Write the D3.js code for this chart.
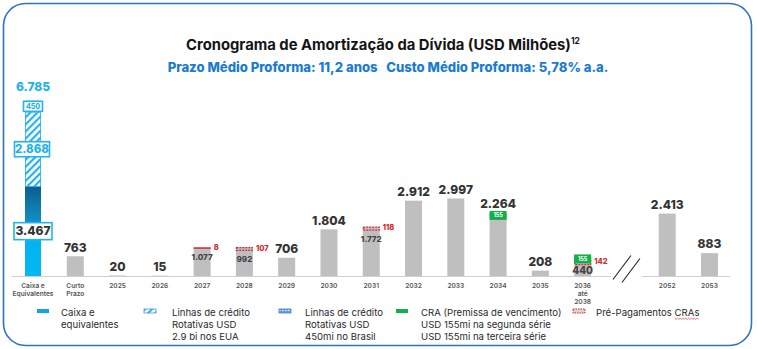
<!DOCTYPE html>
<html>
<head>
<meta charset="utf-8">
<script src="https://cdn.jsdelivr.net/npm/d3@7/dist/d3.min.js"></script>
<style>
  html, body { margin: 0; padding: 0; background: #fff; }
  svg { display: block; font-family: Inter, "Open Sans", sans-serif; }
</style>
</head>
<body>
<svg id="chart" width="757" height="349"></svg>
<script>
// Categories along the x axis ("|" marks a line break, "//" is the axis break slot)
const categories = ["Caixa e|Equivalentes", "Curto|Prazo", "2025", "2026", "2027", "2028", "2029",
  "2030", "2031", "2032", "2033", "2034", "2035", "2036|até|2038", "//", "2052", "2053"];

// Cash position (first column), USD millions
const cashValues = [3467];
const rcfUsaValues = [2868];
const rcfBrasilValues = [450];
const cashTotal = 6785;

// Debt amortization per period, USD millions
const debtCategories = ["Curto|Prazo", "2025", "2026", "2027", "2028", "2029", "2030", "2031",
  "2032", "2033", "2034", "2035", "2036|até|2038", "2052", "2053"];
const debtValues    = [763, 20, 15, 1077, 992, 706, 1804, 1772, 2912, 2997, 2264, 208, 440, 2413, 883];
const prepayValues  = [0, 0, 0, 8, 107, 0, 0, 118, 0, 0, 0, 0, 142, 0, 0];
const craValues     = [0, 0, 0, 0, 0, 0, 0, 0, 0, 0, 155, 0, 155, 0, 0];

const titleText = "Cronograma de Amortização da Dívida (USD Milhões)";
const subtitleText = "Prazo Médio Proforma: 11,2 anos   Custo Médio Proforma: 5,78% a.a.";

const legendItems = [
  { key: "cash",   lines: ["Caixa e", "equivalentes"] },
  { key: "rcfUsa", lines: ["Linhas de crédito", "Rotativas USD", "2.9 bi nos EUA"] },
  { key: "rcfBr",  lines: ["Linhas de crédito", "Rotativas USD", "450mi no Brasil"] },
  { key: "cra",    lines: ["CRA (Premissa de vencimento)", "USD 155mi na segunda série", "USD 155mi na terceira série"] },
  { key: "prepay", lines: ["Pré-Pagamentos CRAs"] }
];

const fmt = d3.formatLocale({ decimal: ",", thousands: ".", grouping: [3], currency: ["", ""] }).format(",d");

const svg = d3.select("#chart");

const C = {
  frame: "#2f73bf", gray: "#bfbfbf", dark: "#333333", axis: "#d0d0d0",
  cyanText: "#1db1ee", red: "#d7262c", green: "#12b04b", blue: "#1a7bd0"
};

// ---------- defs: gradient and patterns ----------
const defs = svg.append("defs");
const grad = defs.append("linearGradient").attr("id", "cashGrad")
  .attr("x1", 0).attr("y1", 0).attr("x2", 0).attr("y2", 1);
grad.append("stop").attr("offset", "0%").attr("stop-color", "#0b5d8c");
grad.append("stop").attr("offset", "40%").attr("stop-color", "#1290c9");
grad.append("stop").attr("offset", "52%").attr("stop-color", "#05b1ee");
grad.append("stop").attr("offset", "100%").attr("stop-color", "#00b9f3");

const hatch = defs.append("pattern").attr("id", "hatch").attr("patternUnits", "userSpaceOnUse")
  .attr("width", 5).attr("height", 5).attr("patternTransform", "rotate(45)");
hatch.append("rect").attr("width", 5).attr("height", 5).attr("fill", "#fff");
hatch.append("rect").attr("width", 2.2).attr("height", 5).attr("fill", "#22b2ef");

const dots = defs.append("pattern").attr("id", "dots").attr("patternUnits", "userSpaceOnUse")
  .attr("width", 3).attr("height", 3);
dots.append("rect").attr("width", 3).attr("height", 3).attr("fill", "#6d9de0");
dots.append("rect").attr("x", 0).attr("y", 1).attr("width", 1.6).attr("height", 1).attr("fill", "#e8f0ff");

// ---------- frame ----------
svg.append("rect").attr("x", 3.5).attr("y", 3.5).attr("width", 748).attr("height", 342)
  .attr("rx", 22).attr("fill", "none").attr("stroke", C.frame).attr("stroke-width", 1.6);

// ---------- titles ----------
const title = svg.append("text").attr("x", 383).attr("y", 50).attr("text-anchor", "middle")
  .attr("font-size", 14.8).attr("font-weight", 700).attr("fill", "#141414").text(titleText);
title.append("tspan").attr("font-size", 8.5).attr("dy", -6).text("12");

svg.append("text").attr("x", 388).attr("y", 72).attr("text-anchor", "middle")
  .attr("font-size", 13.1).attr("font-weight", 800).attr("fill", C.blue)
  .attr("xml:space", "preserve").text(subtitleText);

// ---------- scales ----------
const x = d3.scalePoint().domain(categories).range([33, 709.5]);
const y = d3.scaleLinear().domain([0, cashTotal]).range([276, 100.5]);
const bw = 17;

// ---------- axis baseline with break ----------
const axisY = y(0) + 0.5;
svg.append("line").attr("x1", 12).attr("x2", 611).attr("y1", axisY).attr("y2", axisY)
  .attr("stroke", C.axis).attr("stroke-width", 1.2);
svg.append("line").attr("x1", 642).attr("x2", 730).attr("y1", axisY).attr("y2", axisY)
  .attr("stroke", C.axis).attr("stroke-width", 1.2);
const bx = x("//");
[[-12, 3, 6, -18], [-3, 6, 15, -15]].forEach(([dx1, dy1, dx2, dy2]) => {
  svg.append("line").attr("x1", bx + dx1).attr("y1", axisY + dy1)
    .attr("x2", bx + dx2).attr("y2", axisY + dy2 - 3)
    .attr("stroke", "#222").attr("stroke-width", 1.1);
});

// ---------- category labels ----------
const catG = svg.append("g").attr("font-size", 6.6).attr("font-weight", 600).attr("fill", "#555")
  .attr("text-anchor", "middle");
categories.filter(c => c !== "//").forEach(c => {
  const t = catG.append("text").attr("x", x(c)).attr("y", 287.5);
  c.split("|").forEach((ln, i) => t.append("tspan").attr("x", x(c)).attr("dy", i === 0 ? 0 : 8.2).text(ln));
});

// ---------- cash column ----------
const cx = x(categories[0]);
const cashSegs = [
  { v0: 0, v1: cashValues[0], fill: "url(#cashGrad)" },
  { v0: cashValues[0], v1: cashValues[0] + rcfUsaValues[0], fill: "url(#hatch)" },
  { v0: cashValues[0] + rcfUsaValues[0], v1: cashValues[0] + rcfUsaValues[0] + rcfBrasilValues[0], fill: "url(#dots)" }
];
svg.append("g").selectAll("rect").data(cashSegs).join("rect")
  .attr("x", cx - 8).attr("width", 16)
  .attr("y", d => y(d.v1)).attr("height", d => y(d.v0) - y(d.v1))
  .attr("fill", d => d.fill);
svg.append("rect").attr("x", cx - 8 + 0.4).attr("width", 15.2)
  .attr("y", y(cashSegs[1].v1)).attr("height", y(cashSegs[1].v0) - y(cashSegs[1].v1))
  .attr("fill", "none").attr("stroke", "#22b2ef").attr("stroke-width", 0.8);

function boxLabel(cxp, cyp, w, h, text, color, fs) {
  svg.append("rect").attr("x", cxp - w / 2).attr("y", cyp - h / 2).attr("width", w).attr("height", h)
    .attr("fill", "#fff").attr("stroke", "#25b3ef").attr("stroke-width", 1.6);
  svg.append("text").attr("x", cxp).attr("y", cyp).attr("dy", "0.36em").attr("text-anchor", "middle")
    .attr("font-size", fs).attr("font-weight", 800).attr("fill", color).text(text);
}
boxLabel(cx, (y(cashSegs[0].v0) + y(cashSegs[0].v1)) / 2, 38, 17, fmt(cashValues[0]), C.dark, 12);
boxLabel(cx - 1, (y(cashSegs[1].v0) + y(cashSegs[1].v1)) / 2, 35, 15, fmt(rcfUsaValues[0]), C.cyanText, 11.5);
boxLabel(cx, (y(cashSegs[2].v0) + y(cashSegs[2].v1)) / 2, 19, 10, fmt(rcfBrasilValues[0]), C.cyanText, 7);
svg.append("text").attr("x", cx).attr("y", y(cashTotal) - 14).attr("dy", "0.36em")
  .attr("text-anchor", "middle").attr("font-size", 12).attr("font-weight", 800)
  .attr("fill", C.cyanText).text(fmt(cashTotal));

// ---------- debt bars ----------
const rows = debtCategories.map((c, i) => ({
  c, debt: debtValues[i], prepay: prepayValues[i], cra: craValues[i]
}));
const gBars = svg.append("g");
gBars.selectAll("rect.debt").data(rows).join("rect").attr("class", "debt")
  .attr("x", d => x(d.c) - bw / 2).attr("width", bw)
  .attr("y", d => y(d.debt)).attr("height", d => y(0) - y(d.debt))
  .attr("fill", C.gray);

// pre-payments: dashed red outline
gBars.selectAll("rect.prepay").data(rows.filter(d => d.prepay > 0)).join("rect").attr("class", "prepay")
  .attr("x", d => x(d.c) - bw / 2 + 0.5).attr("width", bw - 1)
  .attr("y", d => y(d.debt + d.prepay)).attr("height", d => y(d.debt) - y(d.debt + d.prepay))
  .attr("fill", C.gray).attr("stroke", C.red).attr("stroke-width", 1.3)
  .attr("stroke-dasharray", d => d.prepay < 20 ? null : "2,1");

gBars.selectAll("text.prepay").data(rows.filter(d => d.prepay > 0)).join("text").attr("class", "prepay")
  .attr("x", d => x(d.c) + bw / 2 + 3).attr("y", d => y(d.debt + d.prepay / 2) - 1).attr("dy", "0.36em")
  .attr("font-size", 7.5).attr("font-weight", 800).attr("fill", C.red).text(d => fmt(d.prepay));

// CRA segment on top, with badge
const craRows = rows.filter(d => d.cra > 0);
gBars.selectAll("rect.cra").data(craRows).join("rect").attr("class", "cra")
  .attr("x", d => x(d.c) - bw / 2).attr("width", bw)
  .attr("y", d => y(d.debt + d.prepay + d.cra)).attr("height", d => y(d.debt + d.prepay) - y(d.debt + d.prepay + d.cra))
  .attr("fill", C.green);
gBars.selectAll("rect.crabadge").data(craRows).join("rect").attr("class", "crabadge")
  .attr("x", d => x(d.c) - bw / 2).attr("width", bw)
  .attr("y", d => (y(d.debt + d.prepay) + y(d.debt + d.prepay + d.cra)) / 2 - 4.5).attr("height", 9)
  .attr("fill", C.green);
gBars.selectAll("text.cra").data(craRows).join("text").attr("class", "cra")
  .attr("x", d => x(d.c)).attr("y", d => (y(d.debt + d.prepay) + y(d.debt + d.prepay + d.cra)) / 2)
  .attr("dy", "0.36em").attr("text-anchor", "middle")
  .attr("font-size", 5.5).attr("font-weight", 700).attr("fill", "#fff").text(d => fmt(d.cra));

// value labels: inside the bar when a pre-payment sits on top, otherwise above the bar
rows.forEach(d => {
  if (d.prepay > 0) {
    const big = d.cra > 0;
    svg.append("text").attr("x", x(d.c)).attr("y", big ? y(0) - 6 : y(d.debt) + 9)
      .attr("dy", "0.36em").attr("text-anchor", "middle")
      .attr("font-size", big ? 10 : 8).attr("font-weight", 800).attr("fill", "#444").text(fmt(d.debt));
  } else {
    const top = d.debt + d.cra;
    svg.append("text").attr("x", x(d.c)).attr("y", y(top) - (d.cra > 0 ? 10 : 9)).attr("dy", "0.36em")
      .attr("text-anchor", "middle").attr("font-size", 12).attr("font-weight", 800)
      .attr("fill", C.dark).text(fmt(d.debt));
  }
});

// ---------- legend ----------
const legX = { cash: [37, 61], rcfUsa: [144, 172], rcfBr: [279, 305], cra: [396, 421], prepay: [573, 596] };
const lg = svg.append("g").attr("font-size", 9.6).attr("fill", "#2a2a2a");
let prepayText = null;
legendItems.forEach(it => {
  const [sx, tx] = legX[it.key];
  let sw;
  if (it.key === "cash") sw = lg.append("rect").attr("fill", "#0ea7e6");
  if (it.key === "rcfUsa") sw = lg.append("rect").attr("fill", "url(#hatch)").attr("stroke", "#4b9be0").attr("stroke-width", 0.8);
  if (it.key === "rcfBr") sw = lg.append("rect").attr("fill", "url(#dots)").attr("stroke", "#3f7fd6").attr("stroke-width", 0.8);
  if (it.key === "cra") sw = lg.append("rect").attr("fill", C.green);
  if (it.key === "prepay") sw = lg.append("rect").attr("fill", "#d6d6d6").attr("stroke", C.red).attr("stroke-width", 1).attr("stroke-dasharray", "1.5,1");
  sw.attr("x", sx).attr("y", 309).attr("width", 12).attr("height", 4);
  const t = lg.append("text").attr("x", tx).attr("y", 313);
  it.lines.forEach((ln, i) => t.append("tspan").attr("x", tx).attr("dy", i === 0 ? "0.35em" : 12).text(ln));
  if (it.key === "prepay") prepayText = t;
});
// spell-check squiggle under the last word of the pre-payment legend entry
const node = prepayText.node();
const full = legendItems[4].lines[0];
const start = full.lastIndexOf(" ") + 1;
const sx0 = legX.prepay[1] + node.getSubStringLength(0, start);
const sLen = node.getSubStringLength(start, full.length - start);
const sq = d3.range(0, sLen + 0.1, 1.4).map((v, i) => [sx0 + v, 318.5 + (i % 2 ? 0.9 : -0.3)]);
svg.append("path").attr("d", d3.line()(sq)).attr("fill", "none").attr("stroke", "#e03a3a").attr("stroke-width", 0.7);
</script>
</body>
</html>
